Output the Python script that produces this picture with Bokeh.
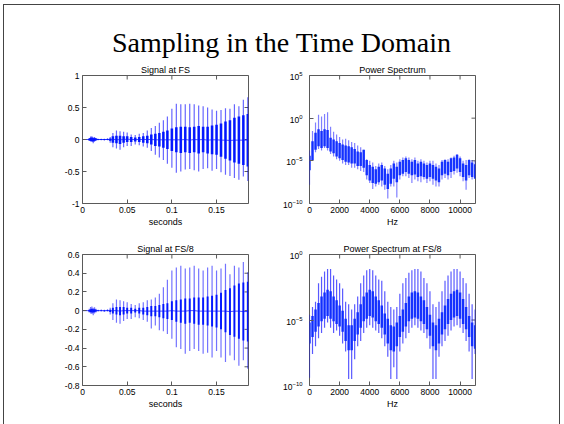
import numpy as np
from bokeh.plotting import figure
from bokeh.models import (Div, FixedTicker, NumeralTickFormatter, Range1d, ColumnDataSource)
from bokeh.layouts import column, row
from bokeh.embed import file_html
from bokeh.resources import INLINE

# ---------------- texts ----------------
MAIN_TITLE = "Sampling in the Time Domain"
TITLE_SIG_FS = "Signal at FS"
TITLE_SPEC_FS = "Power Spectrum"
TITLE_SIG_FS8 = "Signal at FS/8"
TITLE_SPEC_FS8 = "Power Spectrum at FS/8"
XLABEL_TIME = "seconds"
XLABEL_FREQ = "Hz"

# ---------------- axes extents / ticks ----------------
FS = 22050
N_SAMPLES = 4096
T_END = N_SAMPLES / FS
F_END = FS / 2
time_ticks = [0, 0.05, 0.1, 0.15]
freq_ticks = [0, 2000, 4000, 6000, 8000, 10000]
sig_fs_yticks = [-1, -0.5, 0, 0.5, 1]
sig_fs8_yticks = [-0.8, -0.6, -0.4, -0.2, 0, 0.2, 0.4, 0.6]
spec_fs_yticks = [1e-10, 1e-5, 1e0, 1e5]
spec_fs8_yticks = [1e-10, 1e-5, 1e0]

# ---------------- Signal at FS (pulse times, spike extremes, dense core) ----------------
sig_t = [0.000, 0.004, 0.0075, 0.0090, 0.0105, 0.0120, 0.0135, 0.0150, 0.0175, 0.0210,
         0.0245, 0.0280, 0.0310, 0.0340, 0.0380, 0.0420, 0.0460, 0.0500, 0.0545, 0.0590,
         0.0635, 0.0680, 0.0725, 0.0770, 0.0815, 0.0860, 0.0905, 0.0950, 0.1000, 0.1050,
         0.1100, 0.1150, 0.1200, 0.1250, 0.1300, 0.1350, 0.1400, 0.1450, 0.1500, 0.1550,
         0.1600, 0.1650, 0.1700, 0.1750, 0.1800, 0.1850]
sig_fs_hi = [0.003, 0.004, 0.02, 0.045, 0.05, 0.03, 0.04, 0.025, 0.01, 0.012,
             0.01, 0.02, 0.04, 0.10, 0.14, 0.13, 0.12, 0.11, 0.08, 0.07,
             0.09, 0.10, 0.14, 0.18, 0.21, 0.26, 0.30, 0.36, 0.48, 0.56,
             0.55, 0.55, 0.56, 0.55, 0.53, 0.52, 0.50, 0.47, 0.45, 0.46,
             0.49, 0.48, 0.55, 0.52, 0.62, 0.66]
sig_fs_lo = [-0.003, -0.004, -0.02, -0.03, -0.04, -0.06, -0.03, -0.02, -0.012, -0.01,
             -0.015, -0.012, -0.05, -0.12, -0.14, -0.16, -0.12, -0.10, -0.10, -0.08,
             -0.09, -0.11, -0.13, -0.18, -0.24, -0.28, -0.32, -0.38, -0.44, -0.52,
             -0.50, -0.47, -0.46, -0.48, -0.50, -0.46, -0.45, -0.49, -0.46, -0.51,
             -0.55, -0.57, -0.60, -0.63, -0.58, -0.65]
sig_fs_core_hi = [0.002, 0.002, 0.01, 0.025, 0.03, 0.02, 0.02, 0.015, 0.006, 0.006,
                  0.006, 0.008, 0.015, 0.05, 0.06, 0.06, 0.05, 0.05, 0.04, 0.03,
                  0.04, 0.05, 0.06, 0.08, 0.09, 0.10, 0.12, 0.14, 0.17, 0.19,
                  0.20, 0.20, 0.19, 0.20, 0.21, 0.20, 0.20, 0.22, 0.23, 0.25,
                  0.28, 0.30, 0.34, 0.36, 0.38, 0.40]
sig_fs_core_lo = [-0.002, -0.002, -0.01, -0.02, -0.025, -0.03, -0.02, -0.012, -0.006, -0.006,
                  -0.008, -0.006, -0.02, -0.05, -0.06, -0.07, -0.05, -0.04, -0.04, -0.03,
                  -0.04, -0.05, -0.06, -0.08, -0.10, -0.11, -0.13, -0.15, -0.18, -0.20,
                  -0.21, -0.20, -0.21, -0.20, -0.22, -0.20, -0.22, -0.23, -0.24, -0.27,
                  -0.30, -0.33, -0.36, -0.38, -0.40, -0.42]

# ---------------- Signal at FS/8 ----------------
sig_fs8_hi = [0.003, 0.003, 0.02, 0.04, 0.045, 0.03, 0.035, 0.02, 0.01, 0.012,
              0.01, 0.015, 0.03, 0.08, 0.12, 0.11, 0.10, 0.09, 0.07, 0.06,
              0.08, 0.09, 0.11, 0.12, 0.14, 0.18, 0.25, 0.33, 0.43, 0.46,
              0.48, 0.45, 0.46, 0.48, 0.45, 0.43, 0.46, 0.48, 0.43, 0.45,
              0.50, 0.39, 0.48, 0.46, 0.52, 0.41]
sig_fs8_lo = [-0.003, -0.003, -0.02, -0.03, -0.035, -0.05, -0.03, -0.02, -0.01, -0.01,
              -0.012, -0.01, -0.04, -0.10, -0.13, -0.14, -0.11, -0.09, -0.09, -0.07,
              -0.08, -0.10, -0.12, -0.19, -0.16, -0.21, -0.22, -0.25, -0.30, -0.39,
              -0.41, -0.46, -0.43, -0.41, -0.43, -0.46, -0.45, -0.50, -0.43, -0.50,
              -0.55, -0.48, -0.53, -0.59, -0.53, -0.62]
sig_fs8_core_hi = [0.002, 0.002, 0.008, 0.015, 0.02, 0.015, 0.015, 0.01, 0.005, 0.005,
                   0.005, 0.006, 0.01, 0.03, 0.04, 0.04, 0.04, 0.03, 0.03, 0.02,
                   0.03, 0.03, 0.04, 0.05, 0.05, 0.06, 0.07, 0.08, 0.10, 0.11,
                   0.12, 0.13, 0.13, 0.14, 0.14, 0.14, 0.15, 0.16, 0.17, 0.19,
                   0.22, 0.24, 0.27, 0.29, 0.30, 0.31]
sig_fs8_core_lo = [-0.002, -0.002, -0.008, -0.015, -0.02, -0.02, -0.015, -0.01, -0.005, -0.005,
                   -0.006, -0.005, -0.015, -0.03, -0.04, -0.05, -0.04, -0.03, -0.03, -0.02,
                   -0.03, -0.04, -0.05, -0.06, -0.06, -0.07, -0.08, -0.09, -0.10, -0.12,
                   -0.13, -0.14, -0.13, -0.14, -0.15, -0.15, -0.16, -0.17, -0.18, -0.20,
                   -0.23, -0.26, -0.28, -0.30, -0.32, -0.33]

# ---------------- spectra (log10 of power) ----------------
spec_f = [0, 200, 400, 600, 800, 1000, 1200, 1400, 1600, 1800,
          2000, 2200, 2400, 2600, 2800, 3000, 3200, 3400, 3600, 3800,
          4000, 4200, 4400, 4600, 4800, 5000, 5200, 5400, 5600, 5800,
          6000, 6200, 6400, 6600, 6800, 7000, 7200, 7400, 7600, 7800,
          8000, 8200, 8400, 8600, 8800, 9000, 9200, 9400, 9600, 9800,
          10000, 10200, 10400, 10600, 10800, 11000]

spec_fs_band_hi = [-4.4, -2.7, -1.7, -1.3, -1.5, -1.3, -1.4, -2.3, -2.5, -2.7,
                   -2.9, -3.1, -3.2, -3.3, -3.4, -3.6, -3.9, -4.0, -3.7, -4.9,
                   -5.5, -5.7, -6.0, -5.7, -5.5, -5.9, -6.5, -5.9, -5.3, -5.7,
                   -5.1, -4.9, -4.7, -4.9, -5.1, -4.9, -5.3, -5.1, -5.3, -5.5,
                   -5.3, -5.5, -5.7, -5.9, -5.1, -4.9, -5.1, -4.7, -4.6, -4.3,
                   -4.7, -5.3, -5.5, -4.9, -5.2, -5.4]
spec_fs_band_lo = [-6.1, -4.9, -3.7, -3.3, -3.5, -3.3, -3.5, -3.9, -4.1, -4.5,
                   -4.7, -4.9, -5.1, -5.2, -5.3, -5.3, -5.6, -5.6, -5.8, -6.7,
                   -7.3, -7.6, -7.7, -7.5, -7.3, -7.8, -8.3, -7.7, -7.1, -7.5,
                   -6.7, -6.5, -6.3, -6.5, -6.7, -6.6, -6.9, -6.8, -6.9, -7.1,
                   -6.9, -7.1, -7.3, -7.5, -6.7, -6.5, -6.7, -6.3, -6.2, -5.9,
                   -6.3, -6.9, -7.3, -6.7, -6.9, -7.1]
spec_fs_peak = [-3.8, -1.5, -0.5, 0.4, 0.2, 0.5, 0.7, -1.0, -1.6, -1.9,
                -2.2, -2.5, -2.4, -2.6, -2.8, -2.9, -3.2, -3.4, -3.7, -4.8,
                -5.0, -5.2, -5.6, -5.3, -5.2, -5.6, -6.0, -5.5, -5.0, -5.2,
                -4.8, -4.6, -4.5, -4.6, -4.8, -4.6, -5.0, -4.8, -5.0, -5.2,
                -5.0, -5.0, -5.3, -5.5, -4.9, -4.8, -4.8, -4.6, -4.4, -4.2,
                -4.5, -5.0, -4.9, -4.8, -4.9, -5.0]
spec_fs_trough = [-7.8, -5.0, -4.0, -3.6, -3.8, -3.5, -3.8, -4.2, -4.5, -4.8,
                  -5.0, -5.3, -5.5, -5.5, -5.8, -5.8, -6.0, -6.2, -6.3, -7.2,
                  -7.6, -8.3, -8.0, -7.8, -8.0, -8.4, -9.4, -8.0, -8.0, -9.3,
                  -7.2, -6.8, -6.8, -7.0, -7.6, -7.2, -7.4, -7.5, -7.2, -7.6,
                  -7.4, -7.8, -8.0, -8.0, -7.2, -7.0, -7.2, -7.0, -6.6, -6.4,
                  -6.8, -7.4, -8.4, -7.0, -7.2, -7.0]

spec_fs8_band_hi = [-5.2, -4.7, -4.2, -3.7, -3.2, -2.9, -2.7, -2.8, -3.2, -3.5,
                    -3.9, -4.3, -4.9, -5.4, -5.4, -4.9, -4.4, -3.8, -3.2, -2.9,
                    -2.7, -2.8, -3.2, -3.5, -3.9, -4.5, -4.9, -5.4, -5.5, -5.2,
                    -4.7, -4.2, -3.7, -3.2, -2.9, -2.8, -2.9, -3.2, -3.5, -4.0,
                    -4.6, -5.2, -5.4, -4.9, -4.4, -3.9, -3.4, -3.0, -2.8, -2.7,
                    -2.9, -3.4, -4.0, -4.7, -5.2, -5.4]
spec_fs8_band_lo = [-6.8, -6.3, -5.9, -5.5, -5.1, -4.9, -4.7, -4.9, -5.1, -5.3,
                    -5.5, -5.9, -6.6, -7.3, -7.3, -6.6, -6.1, -5.6, -5.1, -4.9,
                    -4.7, -4.8, -5.1, -5.3, -5.6, -6.1, -6.8, -7.3, -7.4, -7.0,
                    -6.3, -5.9, -5.5, -5.1, -4.9, -4.8, -4.9, -5.1, -5.3, -5.7,
                    -6.2, -7.0, -7.3, -6.8, -6.1, -5.7, -5.3, -5.0, -4.8, -4.7,
                    -4.9, -5.3, -5.7, -6.3, -7.0, -7.2]
spec_fs8_peak = [-4.6, -4.0, -3.6, -2.2, -1.7, -1.3, -1.1, -1.1, -1.6, -1.9,
                 -2.2, -2.6, -3.6, -3.8, -4.2, -3.8, -3.2, -2.2, -1.6, -1.2,
                 -1.1, -1.2, -1.6, -1.9, -2.0, -2.8, -3.6, -4.0, -4.2, -4.0,
                 -3.0, -2.2, -1.8, -1.4, -1.2, -1.1, -1.1, -1.3, -1.8, -2.2,
                 -2.8, -3.8, -4.0, -3.6, -2.8, -2.0, -1.6, -1.3, -1.1, -1.1,
                 -1.3, -1.8, -2.2, -3.0, -3.8, -4.2]
spec_fs8_trough = [-9.4, -7.6, -7.0, -6.4, -6.0, -5.6, -5.2, -5.6, -6.0, -5.8,
                   -6.2, -6.8, -7.4, -9.5, -9.5, -8.0, -7.0, -6.6, -6.0, -5.6,
                   -5.4, -5.6, -5.8, -6.0, -6.4, -7.0, -7.8, -9.5, -8.6, -9.5,
                   -7.4, -6.8, -6.4, -6.0, -5.6, -5.4, -5.6, -5.8, -6.0, -6.4,
                   -7.2, -9.5, -9.5, -7.8, -7.0, -6.6, -6.2, -5.8, -5.5, -5.4,
                   -5.6, -6.0, -6.6, -7.4, -9.5, -7.6]

# ---------------- styling ----------------
FONT = "Liberation Sans"
BLUE = "#0000ff"
DARK = "#0a28ff"
FRAME = "#5a5a5a"


def style_axis(ax, ticks, fmt=None, standoff=3, label=None):
    ax.ticker = FixedTicker(ticks=ticks)
    if fmt is not None:
        ax.formatter = fmt
    ax.axis_line_color = None
    ax.major_tick_in = 4
    ax.major_tick_out = 0
    ax.minor_tick_in = 0
    ax.minor_tick_out = 0
    ax.major_tick_line_color = FRAME
    ax.major_label_text_font = FONT
    ax.major_label_text_color = "black"
    ax.major_label_text_font_size = "8.5px"
    ax.major_label_standoff = standoff
    if label:
        ax.axis_label = label
        ax.axis_label_text_font = FONT
        ax.axis_label_text_font_size = "9px"
        ax.axis_label_text_font_style = "normal"
        ax.axis_label_text_color = "black"
        ax.axis_label_standoff = 1


def make_fig(title, width, height, borders, x_end, y_lim, ylog, xticks, yticks, xfmt, yfmt, xlabel, ystandoff):
    lb, rb, tb, bb = borders
    p = figure(width=width, height=height, title=title,
               x_range=Range1d(0, x_end), y_range=Range1d(*y_lim),
               y_axis_type="log" if ylog else "linear",
               min_border_left=lb, min_border_right=rb, min_border_top=tb, min_border_bottom=bb,
               output_backend="svg", toolbar_location=None)
    p.title.align = "center"
    p.title.text_font = FONT
    p.title.text_font_size = "9px"
    p.title.text_font_style = "normal"
    p.title.text_color = "black"
    p.title.standoff = 2
    p.xgrid.visible = False
    p.ygrid.visible = False
    p.outline_line_color = FRAME
    p.outline_line_width = 1
    p.background_fill_color = "white"
    p.border_fill_color = "white"
    style_axis(p.xaxis[0], xticks, fmt=xfmt, label=xlabel, standoff=3)
    style_axis(p.yaxis[0], yticks, fmt=yfmt, standoff=ystandoff)
    # inward tick marks on the top and right edges of the box (clipped to the frame)
    p.scatter(x=xticks, y=[y_lim[1]] * len(xticks), marker="dash", size=8, angle=np.pi / 2,
              line_color=FRAME, line_width=1)
    p.scatter(x=[x_end] * len(yticks), y=yticks, marker="dash", size=8,
              line_color=FRAME, line_width=1)
    return p


def draw_signal(p, t, hi, lo, chi, clo, bar_w, spike_alpha):
    mid = [(a + b) / 2 for a, b in zip(chi, clo)]
    src = ColumnDataSource(dict(t=t, hi=hi, lo=lo, chi=chi, clo=clo, mid=mid))
    p.line("t", "mid", source=src, line_color=BLUE, line_width=1, line_alpha=0.7)
    p.vbar(x="t", width=bar_w, bottom="clo", top="chi", source=src,
           fill_color=DARK, line_color=None)
    p.segment(x0="t", y0="lo", x1="t", y1="hi", source=src,
              line_color=BLUE, line_alpha=spike_alpha, line_width=1.2)


def draw_spectrum(p, f, peak, trough, bhi, blo, spike_alpha):
    src = ColumnDataSource(dict(
        f=f,
        pk=10.0 ** np.array(peak), tr=10.0 ** np.array(trough),
        bh=10.0 ** np.array(bhi), bl=10.0 ** np.array(blo)))
    p.segment(x0="f", y0="tr", x1="f", y1="pk", source=src,
              line_color=BLUE, line_alpha=spike_alpha, line_width=1.2)
    p.vbar(x="f", width=165, bottom="bl", top="bh", source=src,
           fill_color=DARK, fill_alpha=0.92, line_color=None)


time_fmt = NumeralTickFormatter(format="0.[00]")
freq_fmt = NumeralTickFormatter(format="0")

# root is offset by (4, 5); left frames start at x=82, right frames at x=309
p1 = make_fig(TITLE_SIG_FS, 250, 168, (78, 6, 14, 24), T_END, (-1, 1), False,
              time_ticks, sig_fs_yticks, time_fmt, NumeralTickFormatter(format="0.[0]"),
              XLABEL_TIME, 3)
draw_signal(p1, sig_t, sig_fs_hi, sig_fs_lo, sig_fs_core_hi, sig_fs_core_lo, 0.0029, 0.6)

p2 = make_fig(TITLE_SPEC_FS, 305, 168, (55, 84, 14, 24), F_END, (1e-10, 1e5), True,
              freq_ticks, spec_fs_yticks, freq_fmt, None, XLABEL_FREQ, 7)
draw_spectrum(p2, spec_f, spec_fs_peak, spec_fs_trough, spec_fs_band_hi, spec_fs_band_lo, 0.5)

p3 = make_fig(TITLE_SIG_FS8, 250, 195, (78, 6, 25, 39), T_END, (-0.8, 0.6), False,
              time_ticks, sig_fs8_yticks, time_fmt, NumeralTickFormatter(format="0.[0]"),
              XLABEL_TIME, 3)
draw_signal(p3, sig_t, sig_fs8_hi, sig_fs8_lo, sig_fs8_core_hi, sig_fs8_core_lo, 0.0022, 0.55)

p4 = make_fig(TITLE_SPEC_FS8, 305, 195, (55, 84, 25, 39), F_END, (1e-10, 1e0), True,
              freq_ticks, spec_fs8_yticks, freq_fmt, None, XLABEL_FREQ, 7)
draw_spectrum(p4, spec_f, spec_fs8_peak, spec_fs8_trough, spec_fs8_band_hi, spec_fs8_band_lo, 0.65)

title_html = (
    '<div style="width:555px;text-align:center;font-family:\'Liberation Serif\',\'Times New Roman\',serif;'
    'font-size:28px;line-height:28px;padding-top:24px;color:#000;white-space:nowrap;">'
    + MAIN_TITLE + '</div>'
)
title_div = Div(text=title_html, width=555, height=56, margin=0)

root = column(title_div, row(p1, p2, spacing=0), row(p3, p4, spacing=0), spacing=0,
              styles={"position": "relative", "left": "4px", "top": "5px",
                      "outline": "1px solid #444444"})

open("out.html", "w").write(file_html(root, INLINE))
